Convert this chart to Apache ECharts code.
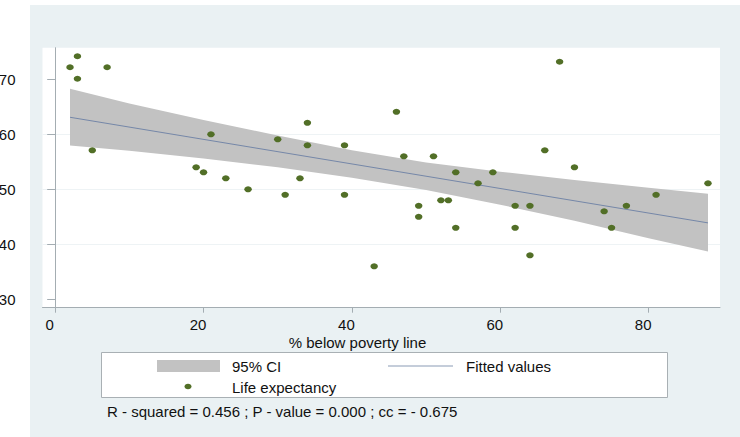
<!DOCTYPE html>
<html>
<head>
<meta charset="utf-8">
<script src="https://cdn.jsdelivr.net/npm/echarts@6/dist/echarts.min.js"></script>
<style>
html,body{margin:0;padding:0;background:#ffffff;}
#chart{width:740px;height:437px;}
</style>
</head>
<body>
<div id="chart"></div>
<script>
// Data
var povertyX = [2, 3, 3, 7, 5, 21, 19, 20, 23, 26, 30, 34, 34, 39, 46, 47, 51, 54, 59, 57, 31, 33, 39, 49, 49, 52, 53, 54, 43, 68, 66, 70, 62, 64, 62, 64, 74, 75, 77, 81, 88];
var lifeExp  = [72.2, 74.2, 70.1, 72.2, 57.1, 60.0, 54.0, 53.1, 52.0, 50.0, 59.1, 62.1, 58.0, 58.0, 64.1, 56.0, 56.0, 53.1, 53.1, 51.1, 49.0, 52.0, 49.0, 47.0, 45.0, 48.0, 48.0, 43.0, 36.0, 73.2, 57.1, 54.0, 47.0, 47.0, 43.0, 38.0, 46.0, 43.0, 47.0, 49.0, 51.1];

var fitX = [2, 88];
var fitY = [63.1, 43.9];

var ciX     = [2, 10, 20, 30, 40, 50, 60, 70, 80, 88];
var ciLower = [57.95, 57.0, 55.6, 54.0, 52.1, 49.9, 47.2, 44.3, 41.1, 38.7];
var ciUpper = [68.3, 65.6, 62.6, 59.8, 57.1, 54.9, 53.2, 51.7, 50.3, 49.2];

var xTicks = [0, 20, 40, 60, 80];
var yTicks = [30, 40, 50, 60, 70];

var xAxisTitle = '% below poverty line';
var legendCI = '95% CI';
var legendFit = 'Fitted values';
var legendPts = 'Life expectancy';
var statsText = 'R - squared = 0.456 ; P - value = 0.000 ; cc = - 0.675';

var FONT = '"Liberation Sans", Arial, Helvetica, sans-serif';
var chart = echarts.init(document.getElementById('chart'), null, {renderer: 'svg'});

var scatterData = povertyX.map(function (x, i) { return [x, lifeExp[i]]; });
var fitData = fitX.map(function (x, i) { return [x, fitY[i]]; });

var option = {
  animation: false,
  backgroundColor: '#ffffff',
  grid: {left: 42.5, right: 20, top: 47.7, bottom: 129.3, show: true, backgroundColor: '#ffffff', borderWidth: 0, outerBoundsMode: 'none', containLabel: false},
  xAxis: {
    type: 'value', min: -1.71, max: 89.62,
    axisLine: {show: true, lineStyle: {color: '#a4adb2', width: 1}},
    axisTick: {show: true, length: 5, lineStyle: {color: '#a4adb2'}, customValues: xTicks},
    axisLabel: {margin: 9, fontSize: 15, color: '#111', fontFamily: FONT, customValues: xTicks, padding: [0, 11, 0, 0]},
    splitLine: {show: false}
  },
  yAxis: {
    type: 'value', min: 28.48, max: 75.75,
    axisLine: {show: true, lineStyle: {color: '#a4adb2', width: 1}},
    axisTick: {show: true, length: 8, lineStyle: {color: '#a4adb2'}, customValues: yTicks},
    axisLabel: {margin: 27, fontSize: 15, color: '#111', fontFamily: FONT, customValues: yTicks},
    splitLine: {show: true, showMinLine: false, showMaxLine: false, lineStyle: {color: '#eef3f5', width: 1}}
  },
  graphic: [
    {type: 'rect', z: -10, silent: true, shape: {x: 30, y: 5, width: 710, height: 432}, style: {fill: '#eaf1f3'}},
    {type: 'rect', z: 10, shape: {x: 101.5, y: 352.5, width: 566, height: 45}, style: {fill: '#ffffff', stroke: '#a9b0b4', lineWidth: 1}},
    {type: 'rect', z: 11, shape: {x: 157, y: 360, width: 63, height: 12}, style: {fill: '#c2c2c2'}},
    {type: 'line', z: 11, shape: {x1: 388, y1: 366, x2: 453, y2: 366}, style: {stroke: '#8a9bb5', lineWidth: 1}},
    {type: 'ellipse', z: 11, shape: {cx: 188, cy: 386.5, rx: 3.5, ry: 2.8}, style: {fill: '#526f27'}},
    {type: 'text', z: 11, x: 232, y: 366, style: {text: legendCI, font: '15px ' + FONT, fill: '#111', verticalAlign: 'middle'}},
    {type: 'text', z: 11, x: 466, y: 366, style: {text: legendFit, font: '15px ' + FONT, fill: '#111', verticalAlign: 'middle'}},
    {type: 'text', z: 11, x: 232, y: 387, style: {text: legendPts, font: '15px ' + FONT, fill: '#111', verticalAlign: 'middle'}},
    {type: 'text', z: 11, x: 357.5, y: 342, style: {text: xAxisTitle, font: '15px ' + FONT, fill: '#111', align: 'center', verticalAlign: 'middle'}},
    {type: 'text', z: 11, x: 107, y: 411, style: {text: statsText, font: '15px ' + FONT, fill: '#111', verticalAlign: 'middle'}}
  ],
  series: [
    {
      name: legendCI,
      type: 'custom',
      z: 1,
      silent: true,
      data: [0],
      renderItem: function (params, api) {
        var pts = [];
        for (var i = 0; i < ciX.length; i++) pts.push(api.coord([ciX[i], ciUpper[i]]));
        for (var j = ciX.length - 1; j >= 0; j--) pts.push(api.coord([ciX[j], ciLower[j]]));
        return {type: 'polygon', shape: {points: pts}, style: {fill: '#c2c2c2', stroke: null}};
      }
    },
    {
      name: legendFit,
      type: 'line',
      z: 2,
      data: fitData,
      symbol: 'none',
      lineStyle: {color: '#7587a8', width: 1}
    },
    {
      name: legendPts,
      type: 'scatter',
      z: 3,
      data: scatterData,
      symbol: 'circle',
      symbolSize: [7.5, 6],
      itemStyle: {color: '#526f27', opacity: 1}
    }
  ]
};
chart.setOption(option);
</script>
</body>
</html>
